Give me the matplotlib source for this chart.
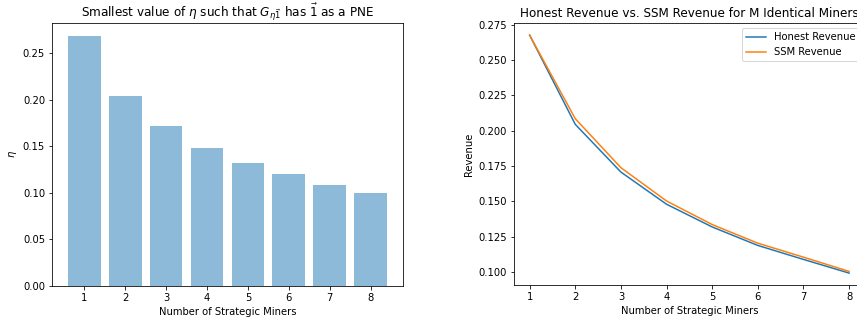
import numpy as np
import matplotlib
matplotlib.use("Agg")
import matplotlib.pyplot as plt

# number of strategic miners
miners = [1, 2, 3, 4, 5, 6, 7, 8]
# smallest eta per miner count (left panel)
eta_min = [0.2686, 0.2043, 0.1711, 0.1483, 0.1315, 0.1194, 0.1086, 0.0993]
# revenues (right panel)
honest_rev = [0.2677, 0.2045, 0.1707, 0.1479, 0.1318, 0.1187, 0.1088, 0.0991]
ssm_rev = [0.2677, 0.2085, 0.1738, 0.1502, 0.1335, 0.1203, 0.1104, 0.1003]

dpi = 72
fig = plt.figure(figsize=(857 / dpi, 318 / dpi), dpi=dpi)

ax1 = fig.add_axes([0.0607, 0.1022, 0.4095, 0.8245])
ax1.bar(miners, eta_min, alpha=0.5)
ax1.set_xticks(miners)
ax1.set_xlabel('Number of Strategic Miners')
ax1.set_ylabel(r'$\eta$')
ax1.set_title(r'Smallest value of $\eta$ such that $G_{\eta\vec{1}}$ has $\vec{1}$ as a PNE')

ax2 = fig.add_axes([0.5994, 0.1038, 0.41, 0.8229])
ax2.plot(miners, honest_rev, label='Honest Revenue')
ax2.plot(miners, ssm_rev, label='SSM Revenue')
ax2.set_xticks(miners)
ax2.set_xlabel('Number of Strategic Miners')
ax2.set_ylabel('Revenue')
ax2.set_title('Honest Revenue vs. SSM Revenue for M Identical Miners')
ax2.legend(loc='upper right')

fig.savefig('out.png', dpi=dpi)
